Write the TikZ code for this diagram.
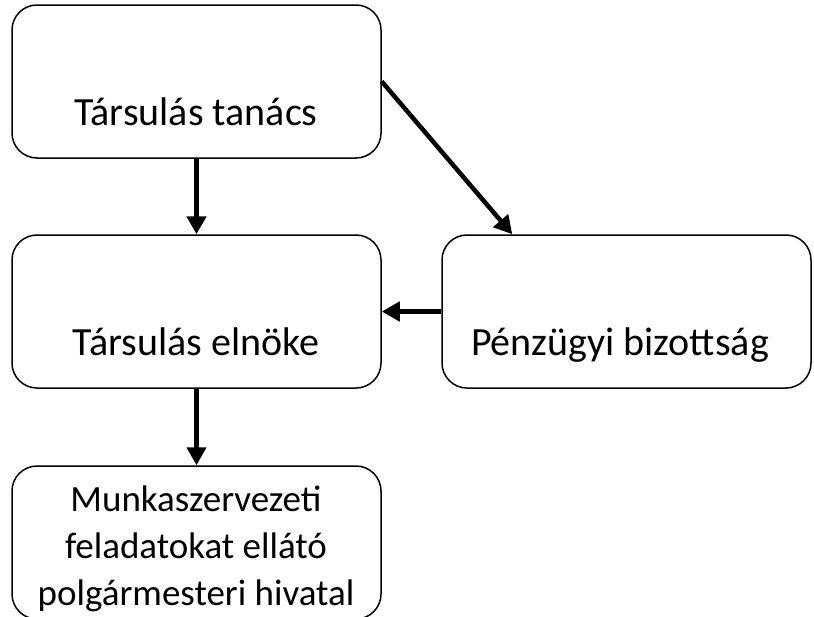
\documentclass[tikz,border=0pt]{standalone}
\usepackage{fontspec}
\setmainfont{Carlito}
\usetikzlibrary{arrows.meta}
\tikzset{
  box/.style={draw=black, line width=1.5pt, rounded corners=25pt, minimum width=369pt, minimum height=153pt, inner sep=0pt},
  lbl/.style={font=\fontsize{40}{47.5}\selectfont, inner sep=0pt, align=center},
  smalllbl/.style={font=\fontsize{37}{47}\selectfont, inner sep=0pt, align=center},
  arr/.style={line width=4.5pt, -{Triangle[width=19pt,length=18pt]}}
}
\begin{document}
\begin{tikzpicture}[x=1pt,y=-1pt]
\useasboundingbox (0,0) rectangle (814,616);
\node[box] (b1) at (196.5,81.5) {};
\node[box] (b2) at (196.5,311.5) {};
\node[box] (b3) at (626.5,311.5) {};
\node[box] (b4) at (196.5,542.5) {};
\node[lbl, anchor=base] (t1) at (196,125) {Társulás tanács};
\node[lbl, anchor=base] (t2) at (196,355) {Társulás elnöke};
\node[lbl, anchor=base] (t3) at (620,355) {Pénzügyi bizottság};
\node[smalllbl, anchor=base] (t4) at (196,605) {Munkaszervezeti\\feladatokat ellátó\\polgármesteri hivatal};
\draw[arr] (b1.south) -- (b2.north);
\draw[arr] (b2.south) -- (b4.north);
\draw[arr] (b3.west) -- (b2.east);
\draw[arr] (b1.east) -- ([xshift=71pt]b3.north west);
\end{tikzpicture}
\end{document}
